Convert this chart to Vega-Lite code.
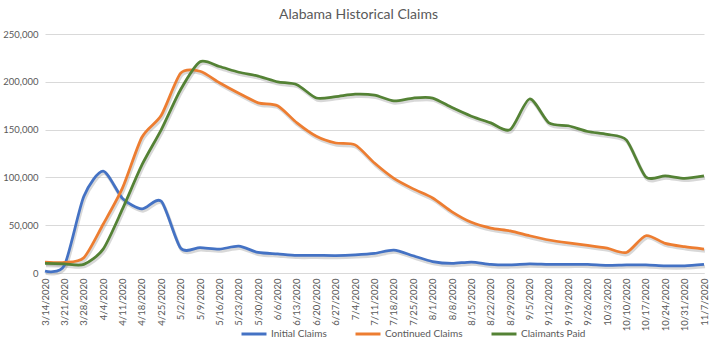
{
  "$schema": "https://vega.github.io/schema/vega-lite/v6.json",
  "width": 659,
  "height": 239,
  "autosize": {"type": "none"},
  "padding": {"left": 45, "top": 34, "right": 15, "bottom": 69},
  "background": "white",
  "title": {
    "text": "Alabama Historical Claims",
    "font": "Lato",
    "fontSize": 14,
    "fontWeight": "normal",
    "color": "#595959",
    "anchor": "middle",
    "frame": "group",
    "dx": -16,
    "offset": 7
  },
  "config": {
    "view": {"stroke": null},
    "font": "Lato",
    "axis": {
      "labelFont": "Lato",
      "labelColor": "#595959",
      "labelFontSize": 9.5,
      "gridColor": "#d9d9d9",
      "domainColor": "#d9d9d9",
      "title": null
    },
    "legend": {"labelFont": "Lato", "labelColor": "#595959", "labelFontSize": 10}
  },
  "data": {
    "values": [
      {"date": "3/14/2020", "Initial Claims": 2000, "Continued Claims": 11500, "Claimants Paid": 10000},
      {"date": "3/21/2020", "Initial Claims": 8000, "Continued Claims": 11000, "Claimants Paid": 9500},
      {"date": "3/28/2020", "Initial Claims": 80000, "Continued Claims": 16000, "Claimants Paid": 9000},
      {"date": "4/4/2020", "Initial Claims": 106500, "Continued Claims": 51000, "Claimants Paid": 25000},
      {"date": "4/11/2020", "Initial Claims": 78000, "Continued Claims": 89000, "Claimants Paid": 67000},
      {"date": "4/18/2020", "Initial Claims": 67000, "Continued Claims": 142000, "Claimants Paid": 113000},
      {"date": "4/25/2020", "Initial Claims": 75000, "Continued Claims": 165000, "Claimants Paid": 150000},
      {"date": "5/2/2020", "Initial Claims": 26000, "Continued Claims": 209000, "Claimants Paid": 192000},
      {"date": "5/9/2020", "Initial Claims": 26500, "Continued Claims": 211000, "Claimants Paid": 221000},
      {"date": "5/16/2020", "Initial Claims": 25000, "Continued Claims": 199000, "Claimants Paid": 216000},
      {"date": "5/23/2020", "Initial Claims": 28000, "Continued Claims": 188000, "Claimants Paid": 210000},
      {"date": "5/30/2020", "Initial Claims": 21500, "Continued Claims": 178000, "Claimants Paid": 206000},
      {"date": "6/6/2020", "Initial Claims": 20000, "Continued Claims": 175000, "Claimants Paid": 200000},
      {"date": "6/13/2020", "Initial Claims": 18500, "Continued Claims": 157000, "Claimants Paid": 197000},
      {"date": "6/20/2020", "Initial Claims": 18500, "Continued Claims": 143000, "Claimants Paid": 183000},
      {"date": "6/27/2020", "Initial Claims": 18300, "Continued Claims": 136000, "Claimants Paid": 184500},
      {"date": "7/4/2020", "Initial Claims": 19000, "Continued Claims": 134000, "Claimants Paid": 187000},
      {"date": "7/11/2020", "Initial Claims": 20500, "Continued Claims": 115000, "Claimants Paid": 186000},
      {"date": "7/18/2020", "Initial Claims": 24000, "Continued Claims": 99000, "Claimants Paid": 180000},
      {"date": "7/25/2020", "Initial Claims": 18000, "Continued Claims": 88000, "Claimants Paid": 183000},
      {"date": "8/1/2020", "Initial Claims": 12000, "Continued Claims": 78500, "Claimants Paid": 183000},
      {"date": "8/8/2020", "Initial Claims": 10000, "Continued Claims": 64000, "Claimants Paid": 173000},
      {"date": "8/15/2020", "Initial Claims": 11500, "Continued Claims": 53000, "Claimants Paid": 164000},
      {"date": "8/22/2020", "Initial Claims": 9000, "Continued Claims": 47000, "Claimants Paid": 157000},
      {"date": "8/29/2020", "Initial Claims": 8500, "Continued Claims": 44000, "Claimants Paid": 150000},
      {"date": "9/5/2020", "Initial Claims": 9500, "Continued Claims": 39000, "Claimants Paid": 182000},
      {"date": "9/12/2020", "Initial Claims": 9000, "Continued Claims": 34500, "Claimants Paid": 157000},
      {"date": "9/19/2020", "Initial Claims": 9000, "Continued Claims": 31500, "Claimants Paid": 154000},
      {"date": "9/26/2020", "Initial Claims": 9000, "Continued Claims": 29000, "Claimants Paid": 148000},
      {"date": "10/3/2020", "Initial Claims": 8000, "Continued Claims": 26000, "Claimants Paid": 145000},
      {"date": "10/10/2020", "Initial Claims": 8500, "Continued Claims": 21500, "Claimants Paid": 139000},
      {"date": "10/17/2020", "Initial Claims": 8500, "Continued Claims": 39000, "Claimants Paid": 100500},
      {"date": "10/24/2020", "Initial Claims": 7500, "Continued Claims": 31000, "Claimants Paid": 101500},
      {"date": "10/31/2020", "Initial Claims": 7500, "Continued Claims": 27500, "Claimants Paid": 99000},
      {"date": "11/7/2020", "Initial Claims": 9000, "Continued Claims": 25000, "Claimants Paid": 101500}
    ]
  },
  "transform": [
    {"fold": ["Initial Claims", "Continued Claims", "Claimants Paid"], "as": ["series", "value"]}
  ],
  "encoding": {
    "x": {
      "field": "date",
      "type": "ordinal",
      "sort": null,
      "scale": {"type": "point", "padding": 0},
      "axis": {
        "labelAngle": 270,
        "labelAlign": "right",
        "labelBaseline": "middle",
        "labelPadding": 5,
        "ticks": false,
        "domain": true,
        "grid": false,
        "labelOverlap": false
      }
    },
    "y": {
      "field": "value",
      "type": "quantitative",
      "scale": {"domain": [0, 250000]},
      "axis": {
        "values": [0, 50000, 100000, 150000, 200000, 250000],
        "format": ",.0f",
        "ticks": false,
        "domain": false,
        "labelPadding": 7
      }
    }
  },
  "layer": [
    {
      "mark": {"type": "line", "interpolate": "cardinal", "tension": 0.25, "strokeWidth": 3.5, "color": "#7f7f7f", "opacity": 0.3, "xOffset": 1, "yOffset": 2},
      "encoding": {"detail": {"field": "series"}}
    },
    {
      "mark": {"type": "line", "interpolate": "cardinal", "tension": 0.25, "strokeWidth": 2.75},
      "encoding": {
        "color": {
          "field": "series",
          "type": "nominal",
          "scale": {
            "domain": ["Initial Claims", "Continued Claims", "Claimants Paid"],
            "range": ["#4472C4", "#ED7D31", "#548235"]
          },
          "legend": {
            "title": null,
            "orient": "none",
            "legendX": 195,
            "legendY": 286,
            "direction": "horizontal",
            "symbolType": "stroke",
            "symbolSize": 625,
            "symbolStrokeWidth": 3,
            "columnPadding": 22,
            "labelOffset": 3
          }
        }
      }
    }
  ]
}
